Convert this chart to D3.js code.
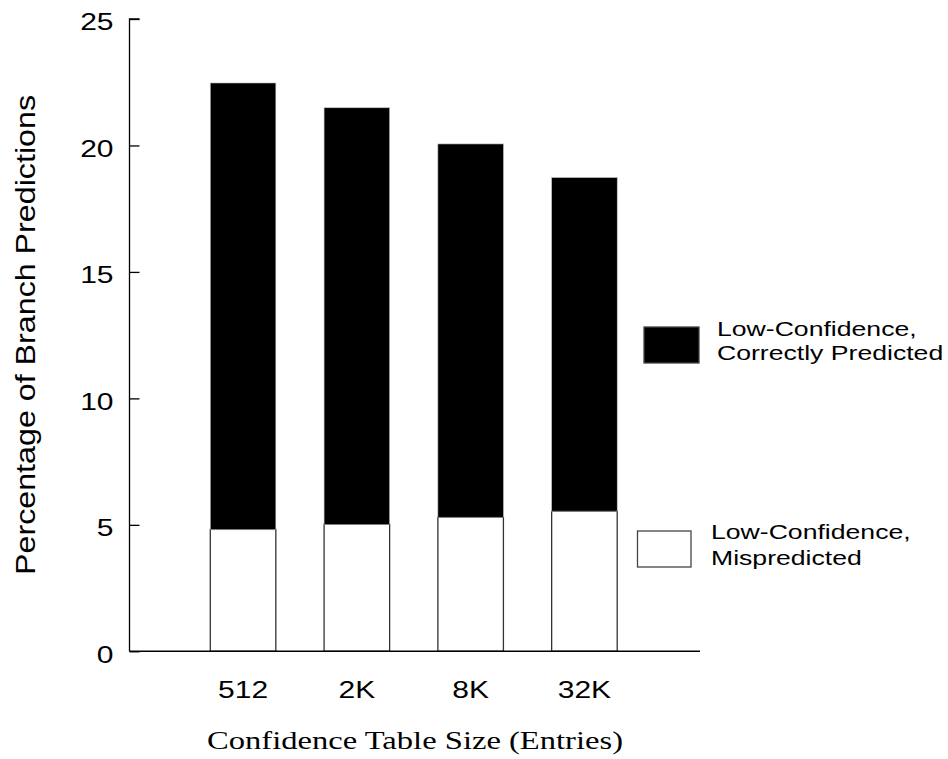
<!DOCTYPE html>
<html>
<head>
    <meta charset="utf-8">
    <style>
        body { margin: 0; background: #fff; }
        .tick text { font-family: "Liberation Sans", Arial, sans-serif; }
    </style>
</head>
<body>
    <svg width="948" height="759"></svg>

<script src="https://d3js.org/d3.v7.min.js"></script>
<script>
    // values
    let sizes = ["512", "2K", "8K", "32K"]
    let mispredicted = [4.82, 5.02, 5.30, 5.54]
    let totals = [22.47, 21.49, 20.06, 18.73]
    let correct = totals.map((t, i) => t - mispredicted[i])
    let yTicks = [0, 5, 10, 15, 20, 25]

    let rows = sizes.map((s, i) => ({ size: s, mis: mispredicted[i], cor: correct[i] }))

    let svg = d3.select("svg")

    // the original type is drawn wider than normal, so stretch text a bit
    function stretch(sel, k) {
        sel.each(function() {
            let w = this.getComputedTextLength()
            d3.select(this)
                .attr("textLength", w * k)
                .attr("lengthAdjust", "spacingAndGlyphs")
        })
    }

    let x = d3.scaleBand()
        .domain(sizes)
        .range([153.4, 674.1])
        .paddingInner(0.424)
        .paddingOuter(0.5)

    let y = d3.scaleLinear()
        .domain([0, 25])
        .range([651.3, 19])

    // stacked bars
    let stack = d3.stack().keys(["mis", "cor"])(rows)
    let fills = { mis: "#fff", cor: "#000" }
    let strokes = { mis: "#333", cor: "#bbb" }

    svg.append("g")
        .selectAll("g")
        .data(stack)
        .join("g")
        .style("fill", d => fills[d.key])
        .style("stroke", d => strokes[d.key])
        .style("stroke-width", d => d.key == "mis" ? 1.3 : 0.6)
        .selectAll("rect")
        .data(d => d)
        .join("rect")
        .attr("x", d => x(d.data.size))
        .attr("width", x.bandwidth())
        .attr("y", d => y(d[1]))
        .attr("height", d => y(d[0]) - y(d[1]))

    // y axis, ticks point inward
    let yAxis = svg.append("g")
        .attr("transform", "translate(129.5,0)")
        .call(d3.axisRight(y).tickValues(yTicks).tickSize(10).tickFormat(d3.format("d")))
    yAxis.select(".domain").attr("d", "M10," + y(25) + "H0V" + y(0)).style("stroke", "#000").style("stroke-width", 1.3)
    yAxis.selectAll(".tick line").style("stroke", "#000").style("stroke-width", 1.3)
    yAxis.selectAll(".tick text")
        .attr("x", -16)
        .attr("dy", "0.45em")
        .style("text-anchor", "end")
        .style("font-size", "24px")
        .style("fill", "#000")
        .call(stretch, 1.25)

    // baseline
    svg.append("line")
        .attr("x1", 129.5).attr("x2", 700)
        .attr("y1", y(0)).attr("y2", y(0))
        .style("stroke", "#000").style("stroke-width", 1.5)

    // x labels
    let xAxis = svg.append("g")
        .attr("transform", "translate(0," + y(0) + ")")
        .call(d3.axisBottom(x).tickSize(0).tickPadding(30))
    xAxis.select(".domain").remove()
    xAxis.selectAll(".tick text")
        .style("font-size", "24px")
        .style("fill", "#000")
        .call(stretch, 1.25)

    // axis titles
    svg.append("text")
        .attr("x", 415)
        .attr("y", 749)
        .style("text-anchor", "middle")
        .style("font-family", "'Liberation Serif', 'Times New Roman', serif")
        .style("font-size", "26px")
        .text("Confidence Table Size (Entries)")
        .attr("textLength", 416)
        .attr("lengthAdjust", "spacingAndGlyphs")

    svg.append("text")
        .attr("transform", "translate(35,335) rotate(-90)")
        .style("text-anchor", "middle")
        .style("font-family", "'Liberation Sans', Arial, sans-serif")
        .style("font-size", "27px")
        .text("Percentage of Branch Predictions")
        .attr("textLength", 480)
        .attr("lengthAdjust", "spacingAndGlyphs")

    // legend
    let legend = [
        { box: [644, 327, 55, 36], fill: "#000", stroke: "#444", tx: 717, ty: 336, lines: ["Low-Confidence,", "Correctly Predicted"], lh: 24 },
        { box: [637.5, 531, 53.5, 36], fill: "#fff", stroke: "#444", tx: 711, ty: 539, lines: ["Low-Confidence,", "Mispredicted"], lh: 26 }
    ]

    let lg = svg.append("g").selectAll("g").data(legend).join("g")
    lg.append("rect")
        .attr("x", d => d.box[0]).attr("y", d => d.box[1])
        .attr("width", d => d.box[2]).attr("height", d => d.box[3])
        .style("fill", d => d.fill)
        .style("stroke", d => d.stroke)
        .style("stroke-width", 1.3)
    lg.append("g")
        .selectAll("text")
        .data(d => d.lines.map((l, i) => ({ l: l, i: i, d: d })))
        .join("text")
        .attr("x", t => t.d.tx)
        .attr("y", t => t.d.ty + t.i * t.d.lh)
        .style("font-family", "'Liberation Sans', Arial, sans-serif")
        .style("font-size", "20px")
        .text(t => t.l)
        .call(stretch, 1.33)
</script>
</body>
</html>
